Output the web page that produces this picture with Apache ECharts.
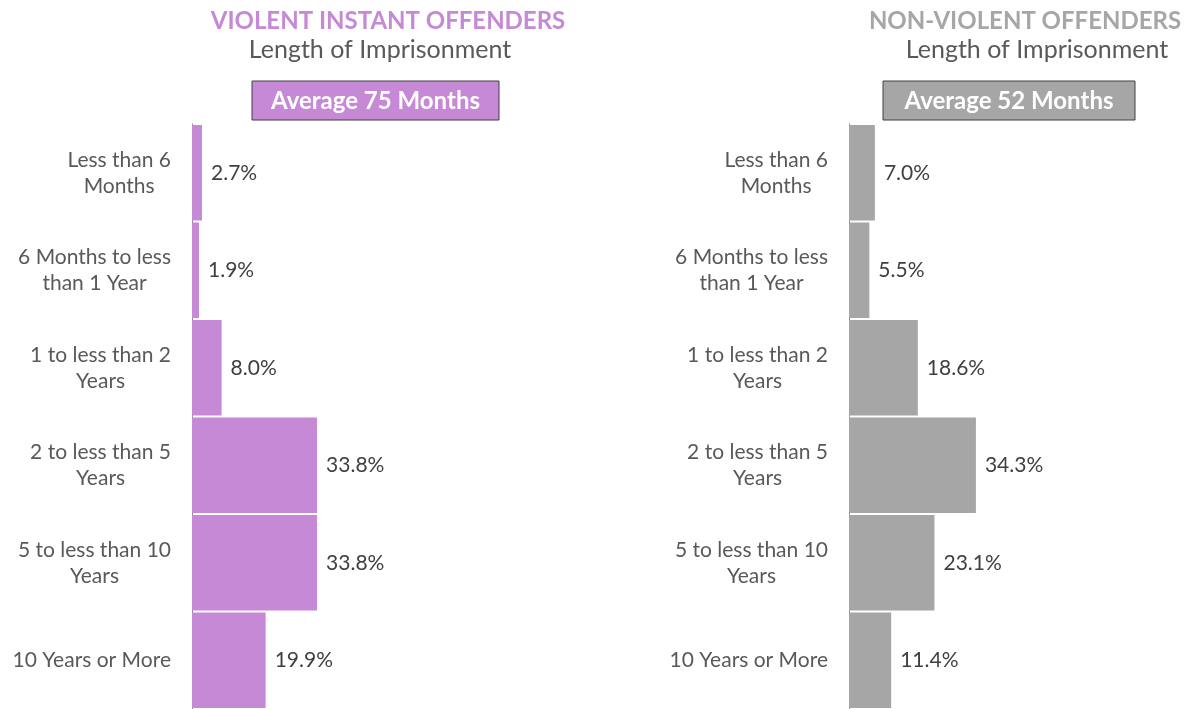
<!doctype html>
<html>
<head>
<meta charset="UTF-8">
<title>Length of Imprisonment</title>
<script src="https://cdn.jsdelivr.net/npm/echarts@6/dist/echarts.min.js"></script>
<style>
  html, body { margin: 0; padding: 0; background: #fff; }
  #main { width: 1197px; height: 709px; }
</style>
</head>
<body>
<div id="main"></div>
<script>
// categories and values
var categories = ['Less than 6\nMonths', '6 Months to less\nthan 1 Year', '1 to less than 2\nYears',
                  '2 to less than 5\nYears', '5 to less than 10\nYears', '10 Years or More'];
var violentValues = [2.7, 1.9, 8.0, 33.8, 33.8, 19.9];
var nonViolentValues = [7.0, 5.5, 18.6, 34.3, 23.1, 11.4];
var violentAverage = 'Average 75 Months';
var nonViolentAverage = 'Average 52 Months';

var purple = '#c689d6';
var grey = '#a6a6a6';
var font = 'Lato, "Noto Sans", sans-serif';

var dom = document.getElementById('main');
var myChart = echarts.init(dom);

function yAxisFor(idx) {
    return {
        gridIndex: idx,
        type: 'category',
        inverse: true,
        data: categories,
        axisLine: { lineStyle: { color: '#8c8c8c', width: 1 } },
        axisTick: { length: 5, lineStyle: { color: '#8c8c8c' } },
        axisLabel: {
            margin: 21,
            fontFamily: font,
            // each line centred in its block, block right-aligned to the axis
            formatter: function (v) {
                return v.split('\n').map(function (s) { return '{l|' + s + '}'; }).join('\n');
            },
            rich: {
                l: { align: 'center', fontSize: 21, lineHeight: 26, color: '#595959', fontFamily: font }
            }
        }
    };
}

function xAxisFor(idx) {
    return { gridIndex: idx, type: 'value', min: 0, max: 90, show: false };
}

function seriesFor(idx, values, color) {
    return {
        type: 'bar',
        xAxisIndex: idx,
        yAxisIndex: idx,
        data: values,
        barCategoryGap: '2%',
        itemStyle: { color: color },
        label: {
            show: true,
            position: 'right',
            distance: 9,
            fontFamily: font,
            fontSize: 21,
            color: '#404040',
            formatter: function (p) { return p.value.toFixed(1) + '%'; }
        },
        silent: true
    };
}

function headerBox(x, w, text, color) {
    return {
        type: 'group',
        children: [
            { type: 'rect', shape: { x: x, y: 81, width: w, height: 39 },
              style: { fill: color, stroke: '#404040', lineWidth: 1 } },
            { type: 'text', x: x + w / 2, y: 101,
              style: { text: text, fill: '#fff', font: 'bold 24px ' + font,
                       align: 'center', verticalAlign: 'middle' } }
        ]
    };
}

var option = {
    animation: false,
    grid: [
        { left: 192, top: 124, width: 333, height: 585 },
        { left: 849, top: 124, width: 333, height: 585 }
    ],
    xAxis: [xAxisFor(0), xAxisFor(1)],
    yAxis: [yAxisFor(0), yAxisFor(1)],
    series: [
        seriesFor(0, violentValues, purple),
        seriesFor(1, nonViolentValues, grey)
    ],
    graphic: [
        { type: 'text', x: 388, y: 21,
          style: { text: 'VIOLENT INSTANT OFFENDERS', fill: purple, font: 'bold 24px ' + font,
                   align: 'center', verticalAlign: 'middle' } },
        { type: 'text', x: 380, y: 50,
          style: { text: 'Length of Imprisonment', fill: '#595959', font: '25px ' + font,
                   align: 'center', verticalAlign: 'middle' } },
        headerBox(252, 247, violentAverage, purple),
        { type: 'text', x: 1025, y: 21,
          style: { text: 'NON-VIOLENT OFFENDERS', fill: grey, font: 'bold 24px ' + font,
                   align: 'center', verticalAlign: 'middle' } },
        { type: 'text', x: 1037, y: 50,
          style: { text: 'Length of Imprisonment', fill: '#595959', font: '25px ' + font,
                   align: 'center', verticalAlign: 'middle' } },
        headerBox(883, 252, nonViolentAverage, grey)
    ]
};
myChart.setOption(option);
</script>
</body>
</html>
